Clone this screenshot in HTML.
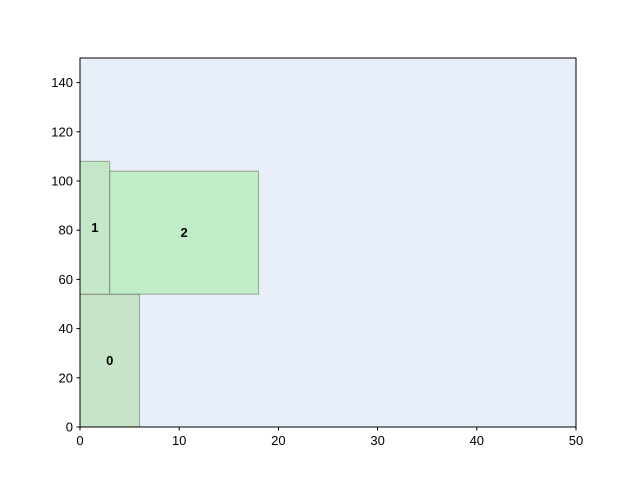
<!DOCTYPE html>
<html><head><meta charset="utf-8"><style>
html,body{margin:0;padding:0;background:#fff;}
svg{display:block;font-family:"Liberation Sans","DejaVu Sans",sans-serif;}
</style></head><body>
<svg id="chart" width="640" height="480"></svg>
<script>
const rectLabels = ["0","1","2"];
const rectX = [0, 0, 3];
const rectY = [0, 54, 54];
const rectW = [6, 3, 15];
const rectH = [54, 54, 50];
const rectColors = ["#c8e4c8","#c4e7c8","#c0ecc8"];
const xTicks = [0,10,20,30,40,50];
const yTicks = [0,20,40,60,80,100,120,140];
const xMin=0,xMax=50,yMin=0,yMax=150;
const L=80,R=576,T=58,B=427;
const sx=v=>L+(v-xMin)/(xMax-xMin)*(R-L);
const sy=v=>B-(v-yMin)/(yMax-yMin)*(B-T);
const svg=document.getElementById('chart');
const NS="http://www.w3.org/2000/svg";
function mk(tag,attrs,parent){const e=document.createElementNS(NS,tag);for(const k in attrs)e.setAttribute(k,attrs[k]);(parent||svg).appendChild(e);return e;}
const bg=mk('rect',{x:L,y:T,width:R-L,height:B-T,fill:'#e8eff8'});


rectLabels.forEach((lab,i)=>{
  const r=mk('rect',{x:sx(rectX[i]),y:sy(rectY[i]+rectH[i]),width:sx(rectX[i]+rectW[i])-sx(rectX[i]),height:sy(rectY[i])-sy(rectY[i]+rectH[i]),fill:rectColors[i],stroke:'rgba(0,0,0,0.3)','stroke-width':1});
  
  
  const t=mk('text',{x:sx(rectX[i]+rectW[i]/2),y:sy(rectY[i]+rectH[i]/2)+4.5,'text-anchor':'middle','font-size':13,'font-weight':'bold',fill:'#000'});
  t.textContent=lab;
  
  
});
const frame=mk('rect',{x:L,y:T,width:R-L,height:B-T,fill:'none',stroke:'#000','stroke-width':1});


xTicks.forEach(v=>{
  const l=mk('line',{x1:sx(v),x2:sx(v),y1:B,y2:B+3.5,stroke:'#000'});
  
  
  const t=mk('text',{x:sx(v),y:B+18,'text-anchor':'middle','font-size':13,fill:'#000'});
  t.textContent=v;
  
  
});
yTicks.forEach(v=>{
  const l=mk('line',{x1:L-3.5,x2:L,y1:sy(v),y2:sy(v),stroke:'#000'});
  
  
  const t=mk('text',{x:L-7,y:sy(v)+4.5,'text-anchor':'end','font-size':13,fill:'#000'});
  t.textContent=v;
  
  
});
</script>
</body></html>
